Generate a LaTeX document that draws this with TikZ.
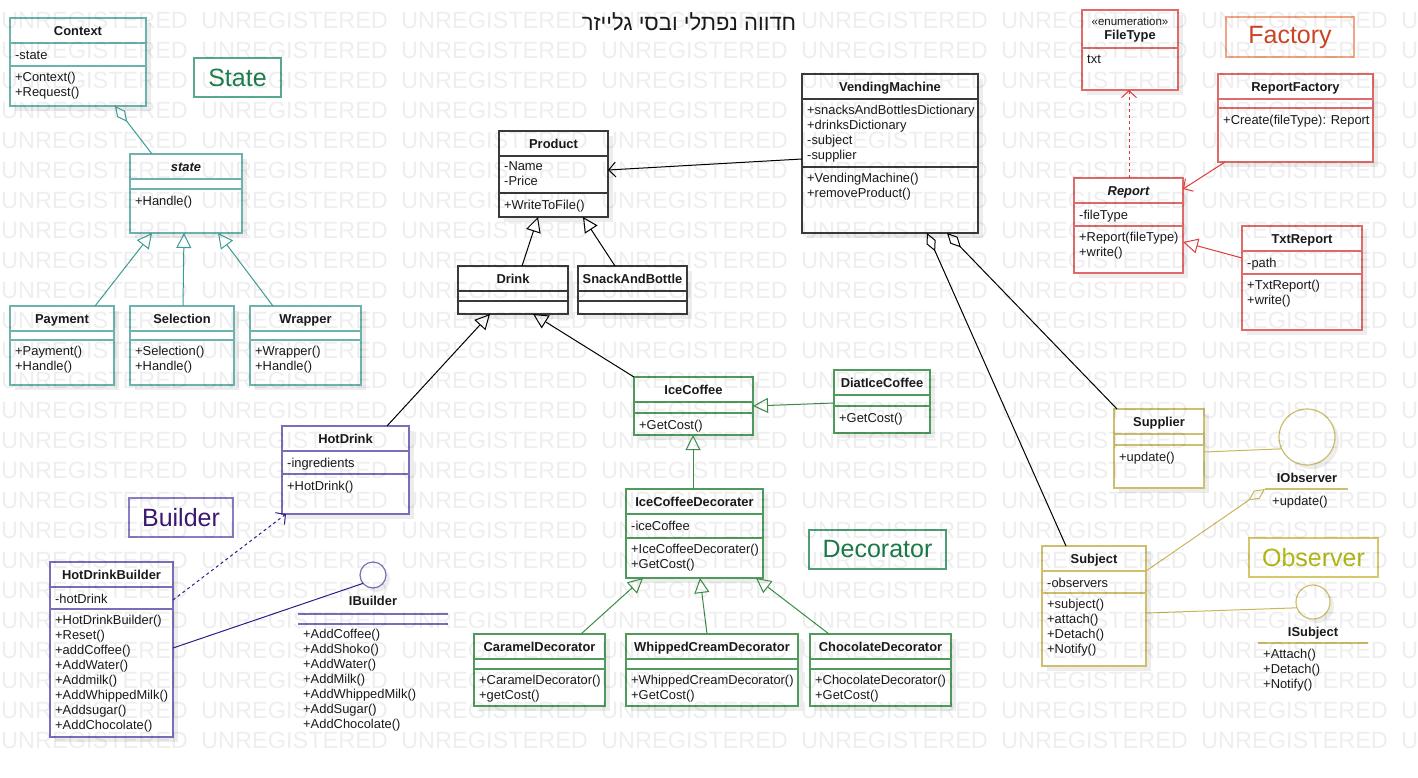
\documentclass[tikz,border=0pt]{standalone}
\usepackage{fontspec}
\setmainfont{Liberation Sans}
\newfontfamily\hebfont[Script=Hebrew]{Liberation Sans}
\TeXXeTstate=1
\usetikzlibrary{arrows.meta,shadows,calc}

\definecolor{tealbox}{HTML}{6DB2AD}
\definecolor{tealln}{HTML}{3E9C96}
\definecolor{stlbl}{HTML}{1E7F4E}
\definecolor{stlblb}{HTML}{5AA88A}
\definecolor{grnbox}{HTML}{4F9A5C}
\definecolor{grnln}{HTML}{3C8C48}
\definecolor{declbl}{HTML}{1B7A48}
\definecolor{declblb}{HTML}{4E9E78}
\definecolor{purbox}{HTML}{7D6DB8}
\definecolor{purln}{HTML}{2D1E8C}
\definecolor{bldlbl}{HTML}{3C1870}
\definecolor{bldlblb}{HTML}{8C7CC4}
\definecolor{redbox}{HTML}{E06A6A}
\definecolor{redln}{HTML}{E03C3C}
\definecolor{faclbl}{HTML}{CC4422}
\definecolor{faclblb}{HTML}{F3A683}
\definecolor{olvbox}{HTML}{CDBF6E}
\definecolor{olvln}{HTML}{C9B75E}
\definecolor{obslbl}{HTML}{B3B817}
\definecolor{obslblb}{HTML}{D5C86A}
\definecolor{blkbox}{HTML}{3A3A3A}
\definecolor{txtc}{HTML}{1A1A1A}

\tikzset{
  clsbox/.style={draw=#1, fill=white, line width=1.4pt, inner sep=0pt, outer sep=0pt, anchor=north west,
    drop shadow={shadow xshift=5pt, shadow yshift=-5pt, fill=black!7, opacity=1}},
  ifcircle/.style={draw=#1, fill=white, circle, line width=1.2pt, inner sep=0pt, outer sep=0pt,
    drop shadow={shadow xshift=4pt, shadow yshift=-4pt, fill=black!7, opacity=1}},
  txt/.style={font=\fontsize{12.9}{15}\selectfont, inner sep=0pt, anchor=north west, align=left, text=txtc,
    execute at begin node=\strut},
  ttl/.style={font=\fontsize{12.9}{15}\selectfont\bfseries, inner sep=0pt, anchor=base, text=txtc},
  grplbl/.style={draw=#1, line width=1.5pt, inner sep=0pt, font=\fontsize{25}{30}\selectfont},
  wm/.style={font=\fontsize{23.5}{28}\selectfont, text=black, text opacity=0.065, inner sep=0pt, anchor=west},
  conn/.style={line width=1pt},
  genarrow/.style={-{Triangle[open, length=15pt, width=15pt]}},
  assocarrow/.style={-{Straight Barb[length=7pt, width=15pt]}},
  aggarrow/.style={{Diamond[open, length=20pt, width=10pt]}-},
}

% name, colour, x1, y1, x2, y2, second divider, title, attributes
\newcommand\umlcls[9]{%
  \node[clsbox=#2, minimum width={(#5-#3)*1pt}, minimum height={(#6-#4)*1pt}] (#1) at (#3,#4) {};
  \draw[#2, line width=1.4pt] (#3,#4+25) -- (#5,#4+25);
  \draw[#2, line width=1.4pt] (#3,#7) -- (#5,#7);
  \node[ttl] (#1-t) at ({(#3+#5)/2},#4+17) {#8};
  \node[txt] (#1-a) at (#3+5,#4+30.5) {#9};
  \coordinate (#1-m) at (#3+5,#7+5.5);
}

\begin{document}
\begin{tikzpicture}[x=1pt,y=-1pt]
\useasboundingbox (0,0) rectangle (1418,777);
\fill[white] (0,0) rectangle (1418,777);

% title
\node[font=\hebfont\fontsize{22}{25}\selectfont, text=txtc, inner sep=0pt] (title) at (689,22) {\beginR חדווה נפתלי ובסי גלייזר\endR};

% ---------------- State ----------------
\node[grplbl=stlblb, text=stlbl, minimum width=87pt, minimum height=39pt] (lstate) at (237.5,77.5) {State};
\umlcls{ctx}{tealbox}{10}{18}{146}{106}{66}{Context}{-state}
\node[txt] (ctx-mt) at (ctx-m) {+Context()\\+Request()};
\umlcls{st}{tealbox}{130}{154}{242}{233}{189}{\itshape state}{}
\node[txt] (st-mt) at (st-m) {+Handle()};
\umlcls{pay}{tealbox}{10}{306}{114}{385}{340}{Payment}{}
\node[txt] (pay-mt) at (pay-m) {+Payment()\\+Handle()};
\umlcls{sel}{tealbox}{130}{306}{234}{385}{340}{Selection}{}
\node[txt] (sel-mt) at (sel-m) {+Selection()\\+Handle()};
\umlcls{wrp}{tealbox}{250}{306}{361}{385}{340}{Wrapper}{}
\node[txt] (wrp-mt) at (wrp-m) {+Wrapper()\\+Handle()};

\draw[conn, tealln, aggarrow] ([xshift=105pt]ctx.south west) -- ([xshift=22pt]st.north west);
\draw[conn, tealln, genarrow] ([xshift=85pt]pay.north west) -- ([xshift=22pt]st.south west);
\draw[conn, tealln, genarrow] ([xshift=53pt]sel.north west) -- ([xshift=54pt]st.south west);
\draw[conn, tealln, genarrow] ([xshift=23pt]wrp.north west) -- ([xshift=88pt]st.south west);

% ---------------- Product / VendingMachine ----------------
\umlcls{prod}{blkbox}{499}{131}{608}{217}{193}{Product}{-Name\\-Price}
\node[txt] (prod-mt) at (prod-m) {+WriteToFile()};
\umlcls{vm}{blkbox}{802}{74}{978}{233}{167}{VendingMachine}{+snacksAndBottlesDictionary\\+drinksDictionary\\-subject\\-supplier}
\node[txt] (vm-mt) at (vm-m) {+VendingMachine()\\+removeProduct()};
\umlcls{drk}{blkbox}{458}{266}{568}{314}{301}{Drink}{}
\umlcls{snk}{blkbox}{578}{266}{687}{314}{301}{SnackAndBottle}{}

\draw[conn, assocarrow] ([yshift=-5.5pt]vm.west) -- ([yshift=4pt]prod.east);
\draw[conn, genarrow] ([xshift=64pt]drk.north west) -- ([xshift=39pt]prod.south west);
\draw[conn, genarrow] ([xshift=37pt]snk.north west) -- ([xshift=84pt]prod.south west);

% ---------------- Builder ----------------
\node[grplbl=bldlblb, text=bldlbl, minimum width=104pt, minimum height=39pt] (lbuilder) at (181,517.5) {Builder};
\umlcls{hot}{purbox}{282}{426}{409}{514}{474}{HotDrink}{-ingredients}
\node[txt] (hot-mt) at (hot-m) {+HotDrink()};
\umlcls{hdb}{purbox}{50}{562}{173}{737}{609}{HotDrinkBuilder}{-hotDrink}
\node[txt] (hdb-mt) at (hdb-m) {+HotDrinkBuilder()\\+Reset()\\+addCoffee()\\+AddWater()\\+Addmilk()\\+AddWhippedMilk()\\+Addsugar()\\+AddChocolate()};
\node[ifcircle=purbox, minimum size=26pt] (ibld) at (373,575) {};
\node[ttl] (ibld-t) at (373,605.5) {IBuilder};
\draw[purbox, line width=1.3pt] (298,614) -- (448,614);
\draw[purbox, line width=1.3pt] (298,624) -- (448,624);
\node[txt] (ibld-mt) at (303,629) {+AddCoffee()\\+AddShoko()\\+AddWater()\\+AddMilk()\\+AddWhippedMilk()\\+AddSugar()\\+AddChocolate()};

\draw[conn, genarrow] ([xshift=105pt]hot.north west) -- ([xshift=32pt]drk.south west);
\draw[conn, purln, dashed, assocarrow] ([yshift=-38pt]hdb.north east) -- ([xshift=4pt]hot.south west);
\draw[conn, purln] ([yshift=-86pt]hdb.north east) -- (ibld.220);

% ---------------- Decorator ----------------
\node[grplbl=declblb, text=declbl, minimum width=137pt, minimum height=39pt] (ldecor) at (877.5,549.5) {Decorator};
\umlcls{ice}{grnbox}{634}{377}{753}{435}{413}{IceCoffee}{}
\node[txt] (ice-mt) at (ice-m) {+GetCost()};
\umlcls{diat}{grnbox}{834}{370}{930}{433}{406}{DiatIceCoffee}{}
\node[txt] (diat-mt) at (diat-m) {+GetCost()};
\umlcls{dec}{grnbox}{626}{489}{763}{578}{538}{IceCoffeeDecorater}{-iceCoffee}
\node[txt] (dec-mt) at (dec-m) {+IceCoffeeDecorater()\\+GetCost()};
\umlcls{car}{grnbox}{474}{634}{605}{706}{669}{CaramelDecorator}{}
\node[txt] (car-mt) at (car-m) {+CaramelDecorator()\\+getCost()};
\umlcls{whp}{grnbox}{626}{634}{798}{706}{669}{WhippedCreamDecorator}{}
\node[txt] (whp-mt) at (whp-m) {+WhippedCreamDecorator()\\+GetCost()};
\umlcls{cho}{grnbox}{810}{634}{951}{706}{669}{ChocolateDecorator}{}
\node[txt] (cho-mt) at (cho-m) {+ChocolateDecorator()\\+GetCost()};

\draw[conn, genarrow] (ice.north west) -- ([xshift=75pt]drk.south west);
\draw[conn, grnln, genarrow] ([yshift=-1.5pt]diat.west) -- (ice.east);
\draw[conn, grnln, genarrow] ([xshift=67pt]dec.north west) -- ([xshift=59pt]ice.south west);
\draw[conn, grnln, genarrow] ([xshift=107pt]car.north west) -- ([xshift=17pt]dec.south west);
\draw[conn, grnln, genarrow] ([xshift=81pt]whp.north west) -- ([xshift=74pt]dec.south west);
\draw[conn, grnln, genarrow] ([xshift=19pt]cho.north west) -- ([xshift=130pt]dec.south west);

% ---------------- Factory ----------------
\node[grplbl=faclblb, text=faclbl, minimum width=128pt, minimum height=40pt] (lfactory) at (1290,37) {Factory};
\node[clsbox=redbox, minimum width=96pt, minimum height=80pt] (ft) at (1082,10) {};
\node[font=\fontsize{11.5}{13}\selectfont, text=txtc, inner sep=0pt, anchor=base] (ft-s) at (1130,25) {«enumeration»};
\node[ttl] (ft-t) at (1130,39.5) {FileType};
\draw[redbox, line width=1.4pt] (1082,48) -- (1178,48);
\node[txt] (ft-a) at (1087,52.5) {txt};
\umlcls{rf}{redbox}{1218}{74}{1373}{162}{108}{ReportFactory}{}
\node[txt] (rf-mt) at (rf-m) {+Create(fileType): Report};
\umlcls{rep}{redbox}{1074}{178}{1183}{273}{226}{\itshape Report}{-fileType}
\node[txt] (rep-mt) at (rep-m) {+Report(fileType)\\+write()};
\umlcls{txr}{redbox}{1242}{226}{1362}{330}{274}{TxtReport}{-path}
\node[txt] (txr-mt) at (txr-m) {+TxtReport()\\+write()};

\draw[conn, redln, dashed, assocarrow] ([xshift=55pt]rep.north west) -- ([xshift=47pt]ft.south west);
\draw[conn, redln, assocarrow] ([xshift=7pt]rf.south west) -- ([yshift=-11pt]rep.north east);
\draw[conn, redln, genarrow] ([yshift=-32pt]txr.north west) -- ([yshift=-64pt]rep.north east);

% ---------------- Observer ----------------
\node[grplbl=obslblb, text=obslbl, minimum width=129pt, minimum height=39pt] (lobserver) at (1313.5,557.5) {Observer};
\umlcls{sup}{olvbox}{1114}{409}{1204}{488}{445}{Supplier}{}
\node[txt] (sup-mt) at (sup-m) {+update()};
\umlcls{sub}{olvbox}{1042}{546}{1146}{666}{593}{Subject}{-observers}
\node[txt] (sub-mt) at (sub-m) {+subject()\\+attach()\\+Detach()\\+Notify()};
\node[ifcircle=olvbox, minimum size=56pt] (iobs) at (1307,437) {};
\node[ttl] (iobs-t) at (1307,482.5) {IObserver};
\draw[olvbox, line width=1.3pt] (1265,489) -- (1348,489);
\coordinate (iobs-l) at (1265,489);
\node[txt] (iobs-mt) at (1272,495) {+update()};
\node[ifcircle=olvbox, minimum size=34pt] (isub) at (1313,602) {};
\node[ttl] (isub-t) at (1313,636) {ISubject};
\draw[olvbox, line width=1.3pt] (1258,643) -- (1368,643);
\node[txt] (isub-mt) at (1263,649) {+Attach()\\+Detach()\\+Notify()};

\draw[conn, aggarrow] ([xshift=125pt]vm.south west) -- ([xshift=24pt]sub.north west);
\draw[conn, aggarrow] ([xshift=145pt]vm.south west) -- ([xshift=3pt]sup.north west);
\draw[conn, olvln] ([yshift=-43pt]sup.north east) -- (iobs.205);
\draw[conn, olvln, {Diamond[open, length=20pt, width=10pt]}-] (iobs-l) -- ([yshift=-25pt]sub.north east);
\draw[conn, olvln] ([yshift=-67pt]sub.north east) -- (isub.200);

% ---------------- watermark ----------------
\foreach \r in {0,...,24} {
  \foreach \c in {0,...,7} {
    \node[wm] (wm-\r-\c) at (200*\c+1, 20+30*\r) {UNREGISTERED};
  }
}
\end{tikzpicture}
\end{document}
